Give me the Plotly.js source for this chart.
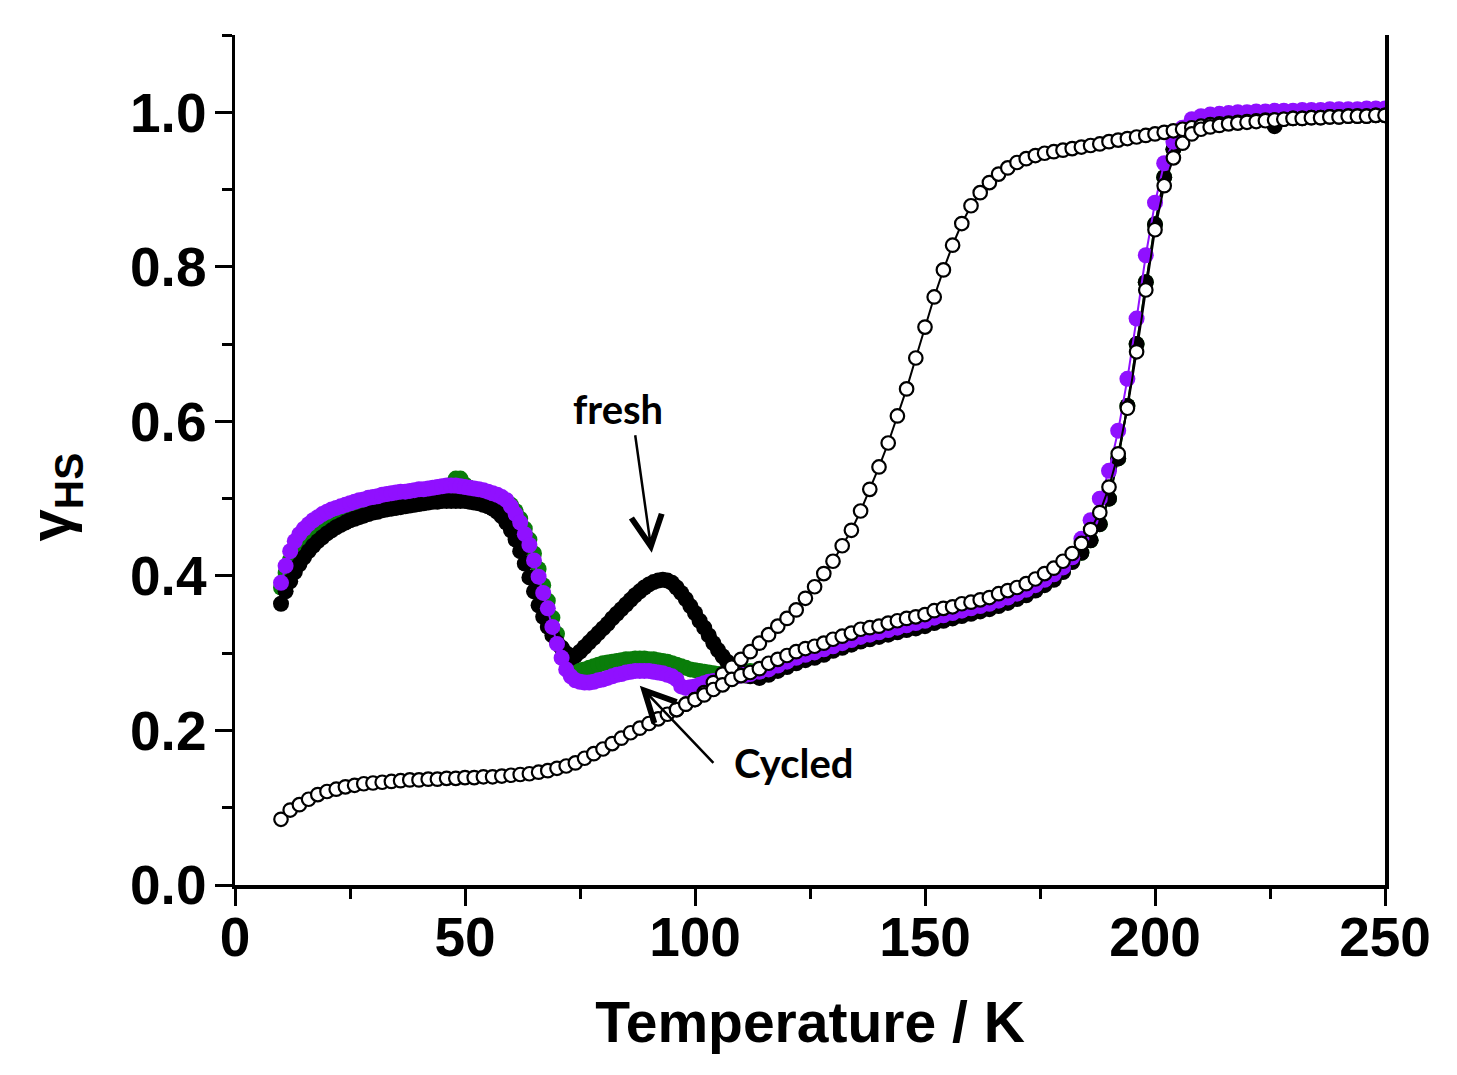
<!DOCTYPE html>
<html>
<head>
<meta charset="utf-8">
<script src="https://cdn.plot.ly/plotly-3.0.1.min.js"></script>
<style>html,body{margin:0;padding:0;background:#fff;}#plot{width:1457px;height:1075px;}</style>
</head>
<body>
<div id="plot"></div>
<script>
// Temperatures (K) for the dense filled-symbol runs
const tempFilled = [10,11,12,13,14,15,16,17,18,19,20,21,22,23,24,25,26,27,28,29,30,31,32,33,34,35,36,37,38,39,
40,41,42,43,44,45,46,47,48,49,50,51,52,53,54,55,56,57,58,59,60,61,62,63,64,65,66,67,68,69,
70,71,72,73,74,75,76,77,78,79,80,81,82,83,84,85,86,87,88,89,90,91,92,93,94,95,96,97,98,99,
100,101,102,103,104,105,106,107,108,109,110,111,112,
114,116,118,120,122,124,126,128,130,132,134,136,138,140,142,144,146,148,150,152,
154,156,158,160,162,164,166,168,170,172,174,176,178,180,182,184,186,188,190,192,
194,196,198,200,202,204,206,208,210,212,214,216,218,220,222,224,226,228,230,232,
234,236,238,240,242,244,246,248,250];

// "Cycled" run (purple)
const cycledHS = [0.391,0.413,0.432,0.445,0.454,0.461,0.467,0.472,0.476,0.480,
0.483,0.486,0.488,0.490,0.492,0.494,0.496,0.498,0.499,0.501,
0.502,0.503,0.505,0.506,0.507,0.508,0.509,0.509,0.510,0.511,
0.512,0.512,0.513,0.514,0.515,0.516,0.517,0.517,0.517,0.516,
0.515,0.514,0.513,0.512,0.511,0.509,0.507,0.505,0.502,0.498,
0.490,0.480,0.469,0.454,0.440,0.420,0.399,0.378,0.358,0.334,
0.312,0.294,0.279,0.270,0.265,0.263,0.262,0.262,0.263,0.265,
0.266,0.268,0.270,0.272,0.273,0.275,0.276,0.277,0.277,0.277,
0.277,0.276,0.275,0.274,0.272,0.270,0.266,0.257,0.255,0.256,
0.257,0.259,0.261,0.263,0.264,0.265,0.267,0.268,0.269,0.270,
0.271,0.272,0.273,
0.276,0.279,0.284,0.289,0.294,0.298,0.301,0.305,0.309,0.313,
0.317,0.321,0.324,0.327,0.330,0.333,0.336,0.339,0.342,0.346,
0.349,0.352,0.355,0.358,0.361,0.364,0.368,0.372,0.377,0.382,
0.388,0.395,0.402,0.411,0.424,0.448,0.472,0.500,0.536,0.588,
0.655,0.733,0.815,0.883,0.934,0.962,0.980,0.991,0.995,0.997,
0.998,0.999,1.000,1.000,1.001,1.001,1.002,1.002,1.002,1.003,
1.003,1.003,1.004,1.004,1.004,1.004,1.005,1.005,1.005];

// "fresh" run (black)
const freshHS = [0.364,0.380,0.393,0.405,0.415,0.424,0.432,0.439,0.445,0.450,
0.455,0.459,0.463,0.466,0.469,0.472,0.474,0.476,0.478,0.480,
0.482,0.483,0.485,0.486,0.487,0.488,0.489,0.490,0.491,0.492,
0.493,0.494,0.495,0.496,0.496,0.497,0.497,0.497,0.497,0.497,
0.497,0.496,0.495,0.494,0.492,0.490,0.487,0.483,0.477,0.469,
0.459,0.447,0.432,0.416,0.398,0.380,0.362,0.347,0.334,0.323,
0.314,0.307,0.300,0.294,0.297,0.302,0.308,0.314,0.320,0.326,
0.332,0.338,0.345,0.351,0.357,0.363,0.369,0.375,0.380,0.385,
0.389,0.392,0.394,0.395,0.394,0.391,0.385,0.378,0.370,0.361,
0.352,0.342,0.333,0.323,0.313,0.304,0.296,0.289,0.283,0.278,
0.274,0.271,0.270,
0.268,0.272,0.277,0.282,0.287,0.291,0.294,0.298,0.303,0.307,
0.311,0.315,0.318,0.321,0.324,0.327,0.330,0.332,0.335,0.339,
0.342,0.345,0.348,0.351,0.354,0.357,0.361,0.365,0.370,0.375,
0.381,0.388,0.395,0.405,0.418,0.430,0.446,0.467,0.500,0.552,
0.620,0.700,0.780,0.855,0.916,0.952,0.972,0.982,0.987,0.989,
0.990,0.991,0.992,0.992,0.993,0.993,0.982,0.994,0.994,0.995,
0.995,0.995,0.996,0.996,0.996,0.997,0.997,0.997,0.998];

// intermediate run (green)
const greenHS = [0.385,0.404,0.421,0.434,0.444,0.452,0.458,0.464,0.469,0.473,
0.476,0.479,0.482,0.484,0.486,0.488,0.490,0.491,0.493,0.494,
0.496,0.497,0.498,0.499,0.500,0.501,0.502,0.503,0.504,0.505,
0.506,0.507,0.508,0.509,0.510,0.511,0.513,0.518,0.526,0.526,
0.518,0.514,0.512,0.510,0.509,0.507,0.505,0.503,0.500,0.497,
0.492,0.484,0.474,0.461,0.447,0.429,0.409,0.388,0.368,0.346,
0.325,0.307,0.292,0.283,0.279,0.278,0.279,0.281,0.283,0.285,
0.287,0.288,0.289,0.290,0.291,0.292,0.292,0.293,0.293,0.293,
0.292,0.292,0.291,0.290,0.289,0.287,0.285,0.283,0.281,0.279,
0.278,0.277,0.276,0.275,0.274,0.273,0.273,0.273,0.273,0.274,
0.275,0.276,0.277,
0.270,0.274,0.279,0.284,0.289,0.293,0.296,0.300,0.305,0.309,
0.313,0.317,0.320,0.323,0.326,0.329,0.332,0.334,0.337,0.341,
0.344,0.347,0.350,0.353,0.356,0.359,0.363,0.367,0.372,0.377,
0.383,0.390,0.397,0.406,0.419,0.430,0.446,0.467,0.500,0.552,
0.620,0.700,0.780,0.855,0.916,0.952,0.972,0.982,0.987,0.989,
0.990,0.991,0.992,0.992,0.993,0.993,0.993,0.994,0.994,0.995,
0.995,0.995,0.996,0.996,0.996,0.997,0.997,0.997,0.998];

// open symbols: cooling run
const tempCool = [10,12,14,16,18,20,22,24,26,28,30,32,34,36,38,40,42,44,46,48,
50,52,54,56,58,60,62,64,66,68,70,72,74,76,78,80,82,84,86,88,
90,92,94,96,98,100,102,104,106,108,110,112,114,116,118,120,122,124,126,128,
130,132,134,136,138,140,142,144,146,148,150,152,154,156,158,160,162,164,166,168,
170,172,174,176,178,180,182,184,186,188,190,192,194,196,198,200,202,204,206,208,
210,212,214,216,218,220,222,224,226,228,230,232,234,236,238,240,242,244,246,248,250];
const coolHS = [0.085,0.097,0.104,0.111,0.117,0.121,0.124,0.127,0.129,0.131,
0.132,0.133,0.134,0.135,0.136,0.136,0.137,0.137,0.138,0.138,
0.139,0.139,0.140,0.140,0.141,0.142,0.143,0.144,0.146,0.148,
0.151,0.154,0.158,0.164,0.170,0.176,0.183,0.190,0.197,0.203,
0.209,0.215,0.221,0.227,0.234,0.240,0.249,0.262,0.273,0.282,
0.292,0.302,0.313,0.324,0.335,0.345,0.356,0.371,0.386,0.403,
0.419,0.439,0.459,0.484,0.512,0.541,0.572,0.607,0.642,0.682,
0.722,0.761,0.796,0.828,0.856,0.879,0.896,0.909,0.920,0.928,
0.935,0.940,0.944,0.947,0.949,0.951,0.953,0.955,0.957,0.959,
0.962,0.964,0.966,0.968,0.970,0.972,0.974,0.976,0.978,0.980,
0.982,0.984,0.985,0.986,0.987,0.988,0.989,0.990,0.990,0.991,
0.992,0.992,0.993,0.993,0.994,0.994,0.995,0.995,0.995,0.996,0.996];

// open symbols: warming run
const tempWarm = [96,98,100,102,104,106,108,110,112,114,116,118,120,122,124,126,128,130,132,134,
136,138,140,142,144,146,148,150,152,154,156,158,160,162,164,166,168,170,172,174,
176,178,180,182,184,186,188,190,192,194,196,198,200,202,204,206,208,210,212,214,
216,218,220,222,224,226,228,230,232,234,236,238,240,242,244,246,248,250];
const warmHS = [0.227,0.234,0.240,0.246,0.253,0.259,0.266,0.271,0.275,0.280,
0.287,0.292,0.297,0.302,0.306,0.309,0.313,0.318,0.322,0.326,
0.331,0.333,0.335,0.339,0.342,0.345,0.347,0.350,0.355,0.358,
0.360,0.364,0.366,0.369,0.372,0.377,0.381,0.385,0.390,0.396,
0.403,0.410,0.419,0.429,0.442,0.460,0.482,0.515,0.558,0.617,
0.690,0.770,0.848,0.905,0.941,0.960,0.972,0.978,0.981,0.983,
0.985,0.986,0.987,0.988,0.989,0.990,0.991,0.992,0.992,0.993,
0.993,0.994,0.994,0.995,0.995,0.995,0.996,0.996];

const xTicks = [0,50,100,150,200,250];
const yTicks = [0.0,0.2,0.4,0.6,0.8,1.0];
const yTickText = ['0.0','0.2','0.4','0.6','0.8','1.0'];

function filled(x, y, color){
  return {x:x, y:y, type:'scatter', mode:'lines+markers',
    line:{color:color, width:2},
    marker:{color:color, size:16, line:{width:0}}, showlegend:false, hoverinfo:'skip'};
}
function open(x, y){
  return {x:x, y:y, type:'scatter', mode:'lines+markers',
    line:{color:'#000', width:2},
    marker:{color:'#fff', size:13.5, line:{color:'#000', width:2.2}}, showlegend:false, hoverinfo:'skip'};
}

const traces = [
  filled(tempFilled, greenHS, '#0a7d0a'),
  filled(tempFilled, freshHS, '#000000'),
  filled(tempFilled, cycledHS, '#9010ff'),
  open(tempCool, coolHS),
  open(tempWarm, warmHS)
];

const sansBold = 'Liberation Sans, Arial, sans-serif';
const axisFont = {family:sansBold, size:55, color:'#000', weight:'bold'};
const noteFont = {family:'Lato, Open Sans, sans-serif', size:40, color:'#000', weight:'bold'};

const layout = {
  width:1457, height:1075,
  margin:{l:235, r:72, t:35, b:190},
  paper_bgcolor:'#fff', plot_bgcolor:'#fff',
  font:{family:sansBold, color:'#000'},
  xaxis:{range:[0,250], tickvals:xTicks, ticktext:xTicks.map(String),
    ticks:'outside', ticklen:17, tickwidth:3, tickcolor:'#000',
    minor:{dtick:25, tick0:0, ticks:'outside', ticklen:10, tickwidth:3, tickcolor:'#000'},
    showline:true, linewidth:3.5, linecolor:'#000', mirror:false, showgrid:false, zeroline:false,
    tickfont:axisFont, ticklabelstandoff:-16,
    title:{text:'Temperature / K', font:{family:sansBold, size:57, color:'#000', weight:'bold'}, standoff:36}},
  yaxis:{range:[0,1.1], tickvals:yTicks, ticktext:yTickText,
    ticks:'outside', ticklen:17, tickwidth:3, tickcolor:'#000',
    minor:{dtick:0.1, tick0:0, ticks:'outside', ticklen:10, tickwidth:3, tickcolor:'#000'},
    showline:true, linewidth:3.5, linecolor:'#000', mirror:true, showgrid:false, zeroline:false,
    tickfont:axisFont, ticklabelstandoff:-3},
  annotations:[
    {x:-0.157, y:0.4565, xref:'paper', yref:'paper', text:'γ<sub>HS</sub>', textangle:-90,
      showarrow:false, xanchor:'center', yanchor:'middle',
      font:{family:sansBold, size:58, color:'#000', weight:'bold'}},
    {x:90.6, y:0.430, ax:87.0, ay:0.582, xref:'x', yref:'y', axref:'x', ayref:'y',
      text:'fresh', font:noteFont, xanchor:'center', yanchor:'bottom', width:124, align:'left',
      showarrow:true, arrowhead:5, arrowsize:2.4, arrowwidth:2.5, arrowcolor:'#000', standoff:0},
    {x:88.0, y:0.258, ax:104.0, ay:0.158, xref:'x', yref:'y', axref:'x', ayref:'y',
      text:'Cycled', font:noteFont, xanchor:'left', yanchor:'middle', borderpad:20,
      showarrow:true, arrowhead:5, arrowsize:2.4, arrowwidth:2.5, arrowcolor:'#000', standoff:0}
  ]
};

Plotly.newPlot('plot', traces, layout, {displayModeBar:false, staticPlot:true});
</script>
</body>
</html>
